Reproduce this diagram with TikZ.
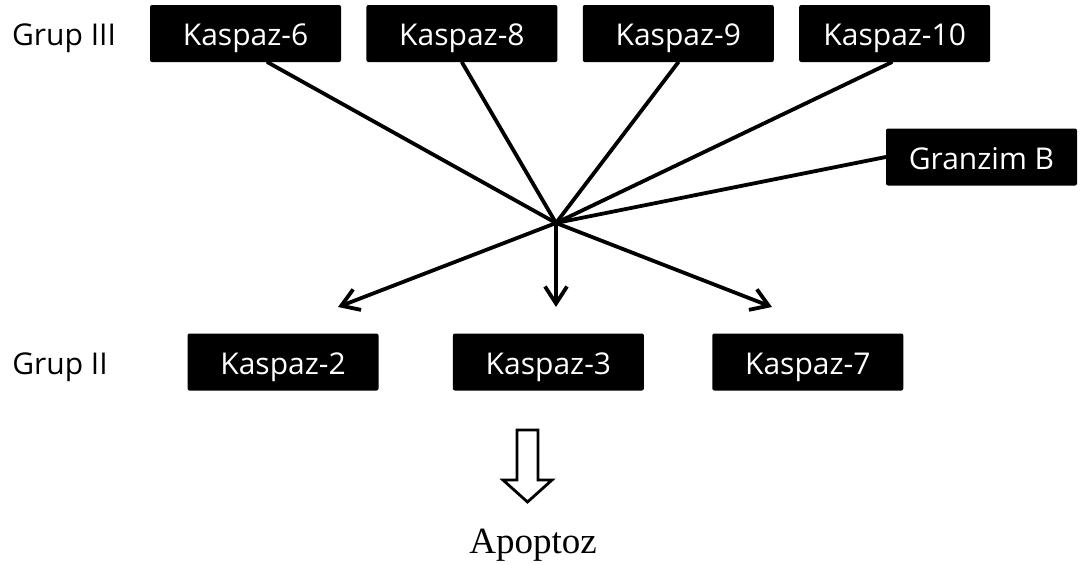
\documentclass[tikz,border=0pt]{standalone}
\usepackage{fontspec}
\setmainfont{Open Sans}
\newfontfamily\apofont{Liberation Serif}
\usetikzlibrary{arrows.meta, positioning}

\begin{document}
\begin{tikzpicture}[x=1pt, y=-1pt,
    kasbox/.style={fill=black, text=white, rounded corners=2pt,
      minimum width=191pt, minimum height=57pt, inner sep=0pt,
      font=\fontsize{30}{35}\selectfont, text height=24pt, text depth=0pt},
    grplabel/.style={font=\fontsize{30}{35}\selectfont,
      text height=24pt, text depth=0pt},
    link/.style={line width=3.8pt, line cap=round},
    tip/.style={-{Straight Barb[length=17pt, width=22pt]}}]
  \useasboundingbox (0,0) rectangle (1085,565);

  % Grup III
  \node[grplabel] (g3) at (64,33.5) {Grup III};
  \node[kasbox] (k6) at (245.5,33.5) {Kaspaz-6};
  \node[kasbox, right=25pt of k6] (k8) {Kaspaz-8};
  \node[kasbox, right=25pt of k8] (k9) {Kaspaz-9};
  \node[kasbox, right=25pt of k9] (k10) {Kaspaz-10};
  \node[kasbox] (gb) at (981.5,157) {Granzim B};

  % Grup II
  \node[grplabel] (g2) at (60,362) {Grup II};
  \node[kasbox] (k2) at (283,362) {Kaspaz-2};
  \node[kasbox, right=74pt of k2] (k3) {Kaspaz-3};
  \node[kasbox, right=68pt of k3] (k7) {Kaspaz-7};

  \coordinate (hub) at (556,223);
  \coordinate (t2) at (338,307);
  \coordinate (t3) at (556,307);
  \coordinate (t7) at (772,307);

  \draw[link] ([xshift=22pt]k6.south) -- (hub);
  \draw[link] (k8.south) -- (hub);
  \draw[link] (k9.south) -- (hub);
  \draw[link] ([xshift=-3pt]k10.south) -- (hub);
  \draw[link] (gb.west) -- (hub);

  \draw[link, tip] (hub) -- (t2);
  \draw[link, tip] (hub) -- (t3);
  \draw[link, tip] (hub) -- (t7);

  % hollow arrow
  \draw[line width=2.8pt, line join=miter]
    (517,430) -- (538,430) -- (538,480) -- (552,480) -- (527.5,502)
    -- (503,480) -- (517,480) -- cycle;
  \node[font=\apofont\fontsize{37}{44}\selectfont, anchor=base] (apo)
    at (533,553) {Apoptoz};
\end{tikzpicture}
\end{document}
